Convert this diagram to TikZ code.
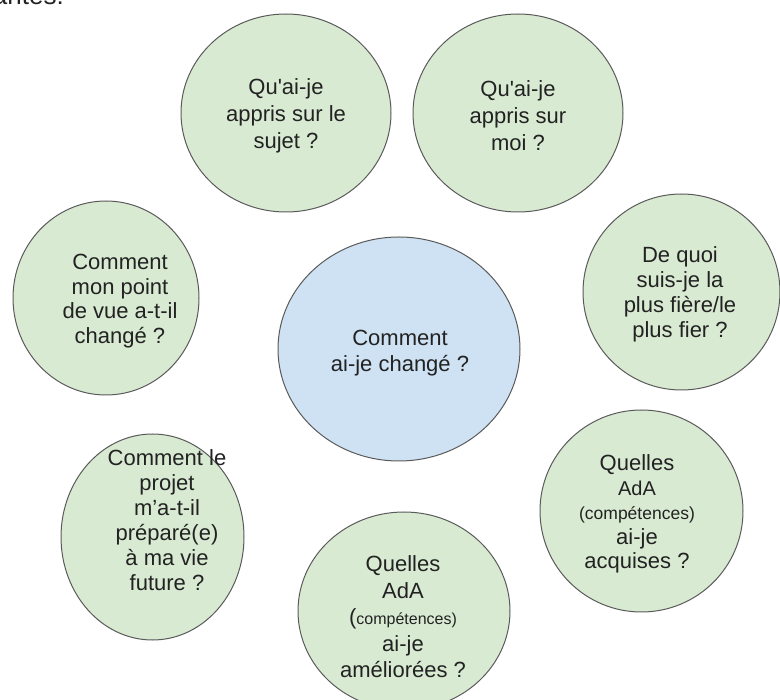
\documentclass[tikz,border=0pt]{standalone}
\usepackage{fontspec}
\setmainfont{Liberation Sans}
\usetikzlibrary{shapes.geometric}
\definecolor{bubgreen}{HTML}{D9EAD3}
\definecolor{bubblue}{HTML}{CFE2F3}
\definecolor{bubline}{HTML}{5A5A5A}
\definecolor{txt}{HTML}{222222}
\begin{document}
\begin{tikzpicture}[x=1pt,y=-1pt,
  bubble/.style={ellipse, draw=bubline, line width=1pt, fill=bubgreen, inner sep=0pt},
  qtext/.style={align=center, text=txt, inner sep=0pt},
  fs/.style={font=\fontsize{22}{#1}\selectfont}]
\useasboundingbox (0,0) rectangle (780,700);
\clip (0,0) rectangle (780,700);
\node[anchor=base east, font=\fontsize{26}{30}\selectfont, inner sep=0pt, text=txt] (intro) at (64,5) {antes:};
% bubbles
\node[bubble, minimum width=210pt, minimum height=198pt] (sujet) at (286,113) {};
\node[bubble, minimum width=210pt, minimum height=198pt] (moi) at (518,113) {};
\node[bubble, minimum width=197pt, minimum height=196pt] (fier) at (681.5,292) {};
\node[bubble, minimum width=186pt, minimum height=194pt] (vue) at (106,298) {};
\node[bubble, fill=bubblue, minimum width=242pt, minimum height=224pt] (centre) at (399,349) {};
\node[bubble, minimum width=183pt, minimum height=206pt] (projet) at (152.5,537) {};
\node[bubble, minimum width=212pt, minimum height=198pt] (ameliorees) at (404,611) {};
\node[bubble, minimum width=203pt, minimum height=202pt] (acquises) at (641.5,511) {};
% texts
\node[qtext, fs=27] (sujet-t) at (286,116) {Qu\textquotesingle ai-je\\appris sur le\\sujet ?};
\node[qtext, fs=27] (moi-t) at (518,116) {Qu\textquotesingle ai-je\\appris sur\\moi ?};
\node[qtext, fs=25] (fier-t) at (680,294) {De quoi\\suis-je la\\plus fière/le\\plus fier ?};
\node[qtext, fs=24.5] (vue-t) at (120,301) {Comment\\mon point\\de vue a-t-il\\changé ?};
\node[qtext, fs=26] (centre-t) at (400,353) {Comment\\ai-je changé ?};
\node[qtext, fs=25] (projet-t) at (167,520) {Comment le\\projet\\m’a-t-il\\préparé(e)\\à ma vie\\future ?};
\node[qtext, fs=26.5] (ameliorees-t) at (403,617) {Quelles\\AdA\\(\fontsize{16}{26.5}\selectfont compétences)\\ai-je\\améliorées ?};
\node[qtext, fs=24.5] (acquises-t) at (637,514) {Quelles\\{\fontsize{20}{24.5}\selectfont AdA}\\{\fontsize{17.5}{24.5}\selectfont (compétences)}\\ai-je\\acquises ?};
\end{tikzpicture}
\end{document}
